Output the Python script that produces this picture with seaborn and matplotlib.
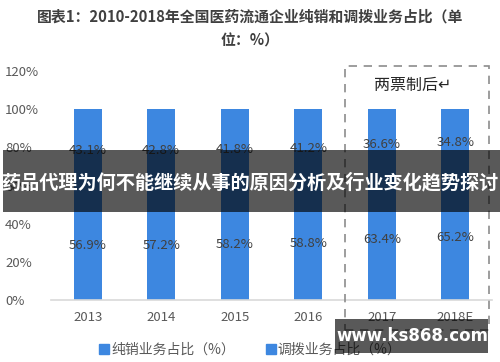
import matplotlib
matplotlib.use("Agg")
import matplotlib.pyplot as plt
import seaborn as sns
import pandas as pd
from matplotlib.patches import Rectangle
from matplotlib.lines import Line2D

years = ["2013", "2014", "2015", "2016", "2017", "2018E"]
pure_sales = [56.9, 57.2, 58.2, 58.8, 63.4, 65.2]
allocation = [43.1, 42.8, 41.8, 41.2, 36.6, 34.8]
yticks = [0, 20, 40, 60, 80, 100, 120]

sns.set_theme(style="white")
plt.rcParams['font.family'] = ['Noto Sans CJK SC', 'DejaVu Sans']

BLUE = "#3d87e0"
GRAY = "#595959"

df = pd.DataFrame({"year": years, "pure": pure_sales, "alloc": allocation})
df["total"] = df["pure"] + df["alloc"]

fig = plt.figure(figsize=(5.0, 3.62), dpi=100)
ax = fig.add_axes([0.102, 0.171, 0.882, 0.633])

sns.barplot(data=df, x="year", y="total", color=BLUE, width=0.38, ax=ax,
            saturation=1, edgecolor="none", linewidth=0)
sns.barplot(data=df, x="year", y="pure", color=BLUE, width=0.38, ax=ax,
            saturation=1, edgecolor="none", linewidth=0)

for i, (p, a) in enumerate(zip(pure_sales, allocation)):
    ax.text(i, p / 2, f"{p:.1f}%", ha="center", va="center", fontsize=9.5, color="#404040")
    ax.text(i, p + a / 2, f"{a:.1f}%", ha="center", va="center", fontsize=9.5, color="#404040")

ax.set_ylim(0, 120)
ax.set_xlim(-0.5, 5.5)
ax.set_yticks(yticks)
ax.set_yticklabels([f"{t}%" for t in yticks], fontsize=9.5, color=GRAY)
ax.tick_params(axis="x", labelsize=9.5, colors=GRAY, length=0, pad=8)
ax.tick_params(axis="y", length=0, pad=16)
ax.set_xlabel("")
ax.set_ylabel("")
for s in ["top", "right", "left"]:
    ax.spines[s].set_visible(False)
ax.spines["bottom"].set_color("#d9d9d9")
ax.spines["bottom"].set_linewidth(1.2)
for lab in ax.get_yticklabels():
    lab.set_horizontalalignment("left")
    lab.set_x(-0.102 * 500 / 441 + 5 / 441)
ax.yaxis.set_tick_params(pad=0)

# title
fig.text(0.5, 0.953, "图表1：2010-2018年全国医药流通企业纯销和调拨业务占比（单",
         ha="center", va="center", fontsize=10.7, fontweight="bold", color="#404040")
fig.text(0.5, 0.887, "位：%）", ha="center", va="center", fontsize=10.7,
         fontweight="bold", color="#404040")

# dashed box
fig.patches.append(Rectangle((345 / 500, 1 - 330 / 362), 144 / 500, 264 / 362,
                             transform=fig.transFigure, fill=False,
                             edgecolor="#8c8c8c", linestyle=(0, (5, 4)), linewidth=1.2))
fig.text(413 / 500, 1 - 85 / 362, "两票制后↵", ha="center", va="center",
         fontsize=11.5, color="#262626")

# legend
handles = [Line2D([], [], marker="s", linestyle="none", markersize=7,
                  markerfacecolor=BLUE, markeredgecolor=BLUE),
           Line2D([], [], marker="s", linestyle="none", markersize=7,
                  markerfacecolor=BLUE, markeredgecolor=BLUE)]
fig.legend(handles, ["纯销业务占比（%）", "调拨业务占比（%）"], loc="center",
           bbox_to_anchor=(0.5, 1 - 350 / 362), ncol=2, frameon=False,
           fontsize=10, labelcolor=GRAY, handletextpad=0.1, columnspacing=2.2,
           handlelength=0.8)

# overlay banner
fig.patches.append(Rectangle((3 / 500, 1 - 212 / 362), 497 / 500, 62 / 362,
                             transform=fig.transFigure, facecolor="black",
                             alpha=0.65, edgecolor="none", zorder=10))
fig.text(0.5, 1 - 183 / 362, "药品代理为何不能继续从事的原因分析及行业变化趋势探讨",
         ha="center", va="center", fontsize=13.8, fontweight="bold",
         color="white", zorder=11)

# watermark
fig.patches.append(Rectangle((335 / 500, 1 - 353 / 362), 153 / 500, 34 / 362,
                             transform=fig.transFigure, facecolor="black",
                             alpha=0.65, edgecolor="none", zorder=10))
fig.text(412 / 500, 1 - 336 / 362, "www.ks868.com", ha="center", va="center",
         fontsize=12, fontweight="bold", color="white", zorder=11,
         family="DejaVu Sans")

fig.savefig("out.png", dpi=100)
